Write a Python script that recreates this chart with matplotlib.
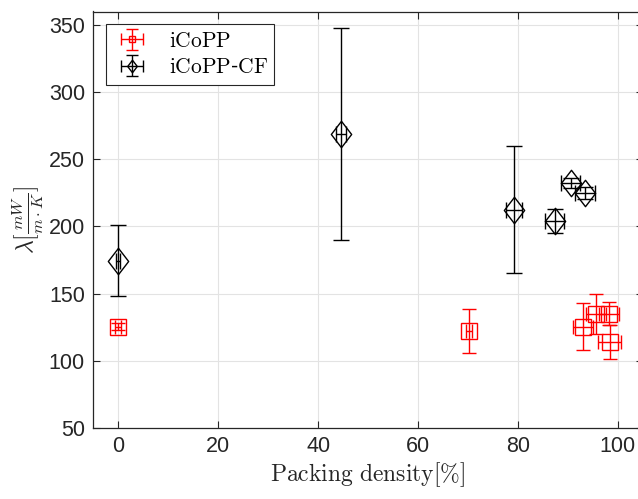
import matplotlib
matplotlib.use("Agg")
import matplotlib.pyplot as plt
from matplotlib.path import Path
import numpy as np

plt.rcParams['mathtext.fontset'] = 'cm'
plt.rcParams['font.family'] = ['Liberation Sans', 'DejaVu Sans']

# iCoPP samples
icopp_x = [0.0, 70.2, 93.0, 95.7, 98.3, 98.4]
icopp_y = [125.5, 122.0, 125.5, 135.0, 135.0, 114.0]
icopp_xerr = [0.6, 0.6, 2.0, 2.0, 2.0, 2.3]
icopp_yerr = [2.5, 16.5, 17.5, 15.0, 8.5, 12.5]

# iCoPP-CF samples
cf_x = [0.0, 44.6, 79.2, 87.4, 90.6, 93.4]
cf_y = [174.5, 269.0, 212.5, 204.0, 232.5, 225.0]
cf_xerr = [0.4, 1.0, 1.6, 1.9, 1.9, 2.0]
cf_yerr = [26.5, 79.0, 47.5, 9.0, 3.5, 4.5]

xticks = [0, 20, 40, 60, 80, 100]
yticks = [50, 100, 150, 200, 250, 300, 350]

diamond = Path([(0, 1), (0.77, 0), (0, -1), (-0.77, 0), (0, 1)],
               [Path.MOVETO, Path.LINETO, Path.LINETO, Path.LINETO, Path.CLOSEPOLY])

fig = plt.figure(figsize=(6.38, 4.99), dpi=100)
ax = fig.add_axes([93.3 / 638, 1 - 428 / 499, 549.5 / 638, 416.5 / 499])

ax.errorbar(icopp_x, icopp_y, xerr=icopp_xerr, yerr=icopp_yerr, fmt='s',
            color='#ff0000', mfc='none', mec='#ff0000', ms=11, mew=1.0,
            elinewidth=1.0, capsize=5, capthick=1.0, ecolor='#ff0000', zorder=3)
ax.errorbar(cf_x, cf_y, xerr=cf_xerr, yerr=cf_yerr, fmt='none',
            ecolor='black', elinewidth=1.0, capsize=6, capthick=1.0, zorder=3)
ax.plot(cf_x, cf_y, linestyle='none', marker=diamond, ms=19, mfc='none',
        mec='black', mew=1.0, zorder=4)

# compact handles for the legend
h_icopp = ax.errorbar([np.nan], [np.nan], xerr=[1], yerr=[1], fmt='s',
                      color='#ff0000', mfc='none', mec='#ff0000', ms=5, mew=1.0,
                      elinewidth=1.0, capsize=4, capthick=1.0)
h_cf = ax.errorbar([np.nan], [np.nan], xerr=[1], yerr=[1], fmt='none',
                   ecolor='black', elinewidth=1.0, capsize=4, capthick=1.0)
h_cf_marker, = ax.plot([np.nan], [np.nan], linestyle='none', marker=diamond,
                       ms=9, mfc='none', mec='black', mew=1.0)

ax.set_xlim(-5, 105)
ax.set_ylim(50, 360)
ax.set_xticks(xticks)
ax.set_yticks(yticks)
ax.tick_params(direction='in', length=5, width=0.8, labelsize=15.5, pad=6,
               labelcolor='#262626', color='#262626', top=True, right=True)
ax.grid(True, color='#e3e3e3', linewidth=0.8)
ax.set_axisbelow(True)
for s in ax.spines.values():
    s.set_color('#262626')
    s.set_linewidth(0.9)

ax.set_xlabel(r'$\mathrm{Packing\ density}[\%]$', fontsize=17, color='#262626',
              labelpad=2)
ax.set_ylabel(r'$\lambda[\frac{mW}{m\cdot K}]$', fontsize=17, color='#262626',
              labelpad=2)

leg = ax.legend([h_icopp, (h_cf, h_cf_marker)],
                [r'$\mathrm{iCoPP}$', r'$\mathrm{iCoPP}$-$\mathrm{CF}$'],
                loc='upper left', fontsize=15.5, frameon=True, fancybox=False,
                edgecolor='#262626', framealpha=1, borderaxespad=0.6,
                handlelength=1.8, borderpad=0.3, labelspacing=0.25)
leg.get_frame().set_linewidth(0.8)

fig.savefig('out.png', dpi=100)
